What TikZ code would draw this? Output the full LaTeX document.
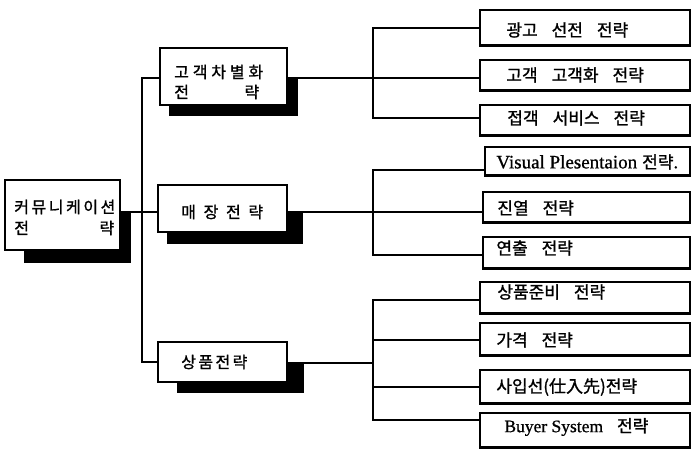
\documentclass[tikz,border=0pt]{standalone}
\usepackage{graphicx}
\usepackage{fontspec}
\newfontfamily\kr[LetterSpace=16,FakeBold=1.2]{Noto Sans CJK KR}
\newfontfamily\kra[LetterSpace=24,FakeBold=1.2]{Noto Sans CJK KR}
\newfontfamily\krw[LetterSpace=48,FakeBold=1.2]{Noto Sans CJK KR}
\newfontfamily\krc[LetterSpace=15,FakeBold=1.2]{Noto Sans CJK KR}
\newfontfamily\krl[FakeBold=1.2]{Noto Sans CJK KR}
\newfontfamily\lat[FakeBold=0.8]{Liberation Serif}
\newcommand\ws{\hspace{14pt}}
\usetikzlibrary{calc,backgrounds}
\begin{document}
\begin{tikzpicture}[x=1pt,y=-1pt,
  conn/.style={line width=2.5pt,line cap=rect},
  shad/.style={fill=black},
  midbox/.style={draw,line width=1.9pt,fill=white,inner sep=0pt},
  leaf/.style={draw,line width=1.6pt,fill=white,inner sep=0pt},
  midtxt/.style={inner sep=0pt,anchor=west,font=\fontsize{16pt}{19pt}\kr},
  lt/.style={inner sep=0pt,anchor=west,font=\fontsize{17pt}{19pt}\krl},
]
\useasboundingbox (0,0) rectangle (697,448);
% coordinates of the trunk lines
\coordinate (tT) at (142,78);
\coordinate (tM) at (142,212);
\coordinate (tB) at (142,362);
\coordinate (g1T) at (373,28);
\coordinate (g1M) at (373,78);
\coordinate (g1B) at (373,118);
\coordinate (g2T) at (373,170);
\coordinate (g2M) at (373,212);
\coordinate (g2B) at (373,255);
\coordinate (g3T) at (373,300);
\coordinate (g3a) at (373,340);
\coordinate (g3M) at (373,363);
\coordinate (g3b) at (373,387);
\coordinate (g3B) at (373,420);

% boxes
\node[midbox,minimum width=115pt,minimum height=70pt] (root) at (62.5,215) {};
\node[midbox,minimum width=127pt,minimum height=57pt] (A) at (223.5,76.5) {};
\node[midbox,minimum width=129pt,minimum height=47pt] (B) at (222.5,208.5) {};
\node[midbox,minimum width=129pt,minimum height=40pt] (C) at (222.5,362) {};

\node[leaf,minimum width=210pt,minimum height=35pt] (b11) at (585,27.5) {};
\node[leaf,minimum width=210pt,minimum height=30pt] (b12) at (585,75) {};
\node[leaf,minimum width=210pt,minimum height=30pt] (b13) at (585,120) {};
\node[leaf,minimum width=205pt,minimum height=28pt] (b21) at (587.5,161) {};
\node[leaf,minimum width=207pt,minimum height=30pt] (b22) at (586.5,207) {};
\node[leaf,minimum width=207pt,minimum height=31pt] (b23) at (586.5,252.5) {};
\node[leaf,minimum width=210pt,minimum height=31pt] (b31) at (585,297.5) {};
\node[leaf,minimum width=210pt,minimum height=32pt] (b32) at (585,339) {};
\node[leaf,minimum width=210pt,minimum height=33pt] (b33) at (585,386.5) {};
\node[leaf,minimum width=210pt,minimum height=34pt] (b34) at (585,430) {};

% thick bottom edges of the leaf boxes
\foreach \b in {b11,b12,b13,b21,b22,b23,b31,b32,b33,b34}
  \draw[line width=3pt] (\b.south west) -- (\b.south east);

\begin{scope}[on background layer]
  \draw[conn] (tT) -- (tB);
  \draw[conn] (root.east |- tM) -- (tM);
  \draw[conn] (tT) -- (A.west |- tT);
  \draw[conn] (tM) -- (B.west |- tM);
  \draw[conn] (tB) -- (C.west |- tB);
  \draw[conn] (A.east |- g1M) -- (g1M);
  \draw[conn] (B.east |- g2M) -- (g2M);
  \draw[conn] (C.east |- g3M) -- (g3M);
  \draw[conn] (g1T) -- (g1B);
  \draw[conn] (g2T) -- (g2B);
  \draw[conn] (g3T) -- (g3B);
  \draw[conn] (g1T) -- (b11.west |- g1T);
  \draw[conn] (g1M) -- (b12.west |- g1M);
  \draw[conn] (g1B) -- (b13.west |- g1B);
  \draw[conn] (g2T) -- (b21.west |- g2T);
  \draw[conn] (g2M) -- (b22.west |- g2M);
  \draw[conn] (g2B) -- (b23.west |- g2B);
  \draw[conn] (g3T) -- (b31.west |- g3T);
  \draw[conn] (g3a) -- (b32.west |- g3a);
  \draw[conn] (g3b) -- (b33.west |- g3b);
  \draw[conn] (g3B) -- (b34.west |- g3B);
  % shadows
  \fill[shad] ($(root.south west)+(20,12)$) rectangle ($(root.east)+(10,-3)$);
  \fill[shad] ($(A.south west)+(10,10)$) rectangle ($(A.east)+(10,1.5)$);
  \fill[shad] ($(B.south west)+(10,11)$) rectangle ($(B.east)+(15,3.5)$);
  \fill[shad] ($(C.south west)+(20,10)$) rectangle ($(C.east)+(16,0)$);
\end{scope}

% texts
\node[midtxt] (rt1) at ($(root.west)+(10,-8)$) {커뮤니케이션};
\node[midtxt] (rt2) at ($(root.west)+(10,13)$) {\makebox[100pt]{전\hfill 략}};
\node[midtxt,font=\fontsize{16pt}{19pt}\kra] (at1) at ($(A.west)+(15,-4.5)$) {고객차별화};
\node[midtxt] (at2) at ($(A.west)+(15,15.5)$) {\makebox[85pt]{전\hfill 략}};
\node[midtxt,font=\fontsize{16pt}{19pt}\krw] (bt) at ($(B.west)+(24,3.5)$) {매장전략};
\node[midtxt,font=\fontsize{16pt}{19pt}\krc] (ct) at ($(C.west)+(24,0)$) {상품전략};

\node[lt] (t11) at ($(b11.west)+(27,2.5)$) {광고\ws 선전\ws 전략};
\node[lt] (t12) at ($(b12.west)+(27,0)$) {고객\ws 고객화\ws 전략};
\node[lt] (t13) at ($(b13.west)+(28,-2)$) {접객\ws 서비스\ws 전략};
\node[lt] (t21) at ($(b21.west)+(12,1)$) {{\fontsize{19pt}{20pt}\lat Visual Plesentaion}\hspace{5pt}전략.};
\node[lt] (t22) at ($(b22.west)+(15,1)$) {진열\ws 전략};
\node[lt] (t23) at ($(b23.west)+(14,-4.5)$) {연출\ws 전략};
\node[lt] (t31) at ($(b31.west)+(18,-5.5)$) {상품준비\ws 전략};
\node[lt] (t32) at ($(b32.west)+(17,1)$) {가격\ws 전략};
\node[lt] (t33) at ($(b33.west)+(17,0.5)$) {사입선(仕入先)전략};
\node[lt] (t34) at ($(b34.west)+(25,-3)$) {{\fontsize{17.5pt}{20pt}\lat Buyer System}\hspace{14pt}전략};
\end{tikzpicture}
\end{document}
